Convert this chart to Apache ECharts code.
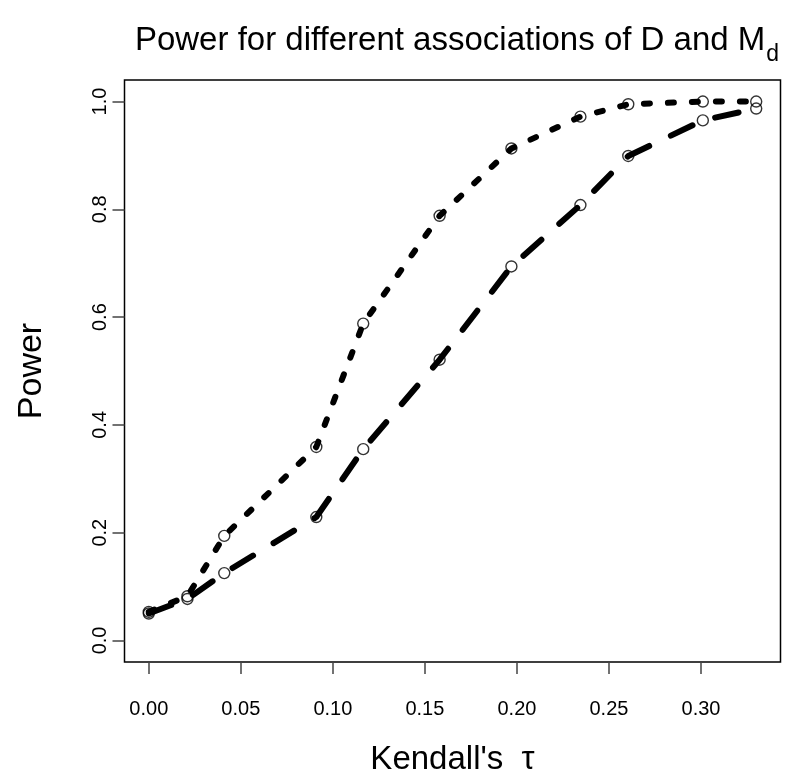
<!DOCTYPE html>
<html>
<head>
<meta charset="utf-8">
<script src="https://cdn.jsdelivr.net/npm/echarts@6/dist/echarts.min.js"></script>
<style>html,body{margin:0;padding:0;background:#fff}#c{width:786px;height:781px}</style>
</head>
<body>
<div id="c"></div>
<script>
// Kendall's tau values (x)
var tau = [0, 0.021, 0.041, 0.091, 0.1165, 0.158, 0.197, 0.2345, 0.2605, 0.301, 0.33];
// Power, dotted curve
var powerDotted = [0.053, 0.082, 0.194, 0.359, 0.588, 0.788, 0.913, 0.972, 0.995, 1.0, 1.0];
// Power, dashed curve
var powerDashed = [0.050, 0.077, 0.125, 0.229, 0.355, 0.521, 0.694, 0.808, 0.899, 0.965, 0.987];
// Tick values
var xTicks = [0, 0.05, 0.10, 0.15, 0.20, 0.25, 0.30];
var yTicks = [0, 0.2, 0.4, 0.6, 0.8, 1.0];

function pairs(xs, ys) { return xs.map(function (x, i) { return [x, ys[i]]; }); }

var FONT = 'Liberation Sans, Arial, Helvetica, sans-serif';
var chart = echarts.init(document.getElementById('c'), null, { renderer: 'canvas' });

// R-style axis ranges: data range extended by 4% on each side
var xMin = 0 - 0.04 * 0.33, xMax = 0.33 + 0.04 * 0.33;
var yMin = -0.04, yMax = 1.04;

function lineSeries(data, dash) {
  return {
    type: 'line', data: data,
    symbol: 'none', smooth: false, silent: true,
    lineStyle: { color: '#000', width: 6, type: dash, cap: 'round', join: 'round' },
    z: 3
  };
}
function pointSeries(data) {
  return {
    type: 'scatter', data: data,
    symbol: 'circle', symbolSize: 11, silent: true,
    itemStyle: { color: 'rgba(0,0,0,0)', borderColor: '#000', borderWidth: 1.4 },
    z: 2
  };
}

chart.setOption({
  animation: false,
  backgroundColor: '#fff',
  title: {
    text: '{a|Power for different associations of D and M}{s|d}',
    left: 452, top: 12, textAlign: 'center',
    textStyle: {
      fontWeight: 'normal',
      rich: {
        a: { fontFamily: FONT, fontSize: 33, fontWeight: 'normal', color: '#000', verticalAlign: 'bottom', lineHeight: 40 },
        s: { fontFamily: FONT, fontSize: 23, fontWeight: 'normal', color: '#000', verticalAlign: 'bottom', lineHeight: 40, padding: [0, 0, -9, 1] }
      }
    }
  },
  grid: { left: 124.5, top: 80, width: 656, height: 593, show: true, borderColor: '#000', borderWidth: 1.5, backgroundColor: 'transparent' },
  xAxis: {
    type: 'value', min: xMin, max: xMax,
    axisLine: { show: false, onZero: false },
    axisTick: { show: true, length: 12, inside: false, customValues: xTicks, lineStyle: { color: '#444', width: 1.5 } },
    splitLine: { show: false },
    axisLabel: {
      margin: 37, fontFamily: FONT, fontSize: 20, color: '#000', customValues: xTicks,
      formatter: function (v) { return v.toFixed(2); }
    },
    name: "Kendall's  τ", nameLocation: 'middle', nameGap: 81,
    nameTextStyle: { fontFamily: FONT, fontSize: 33, color: '#000' }
  },
  yAxis: {
    type: 'value', min: yMin, max: yMax,
    axisLine: { show: false, onZero: false },
    axisTick: { show: true, length: 12, inside: false, customValues: yTicks, lineStyle: { color: '#444', width: 1.5 } },
    splitLine: { show: false },
    axisLabel: {
      margin: 14, rotate: 90, fontFamily: FONT, fontSize: 20, color: '#000', customValues: yTicks,
      formatter: function (v) { return v.toFixed(1); }
    },
    name: 'Power', nameLocation: 'middle', nameGap: 76, nameRotate: 90,
    nameTextStyle: { fontFamily: FONT, fontSize: 34, color: '#000' }
  },
  series: [
    lineSeries(pairs(tau, powerDotted), [6, 18]),
    lineSeries(pairs(tau, powerDashed), [24, 24]),
    pointSeries(pairs(tau, powerDotted)),
    pointSeries(pairs(tau, powerDashed))
  ]
});
</script>
</body>
</html>
